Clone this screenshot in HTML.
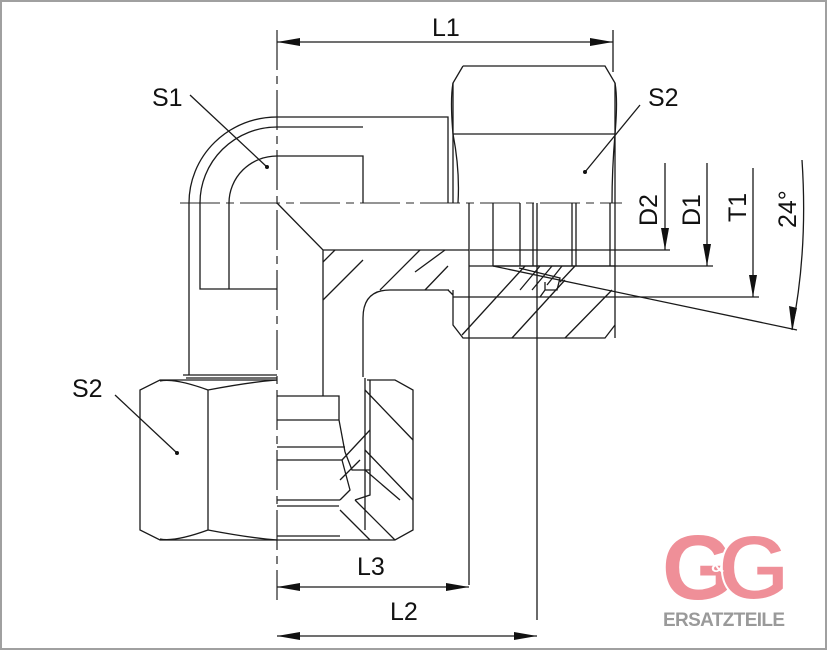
<!DOCTYPE html>
<html><head><meta charset="utf-8"><style>
html,body{margin:0;padding:0;background:#fff}
svg{display:block}
text{font-family:"Liberation Sans",sans-serif;fill:#111}
</style></head><body>
<svg width="828" height="651" viewBox="0 0 828 651" xmlns="http://www.w3.org/2000/svg">
<rect x="1" y="1" width="825" height="648" fill="#fff" stroke="#a0a0a0" stroke-width="2"/>
<g fill="none" stroke="#1a1a1a" stroke-width="1.3">
<!-- centerlines -->
<path d="M180 203 H622" stroke-dasharray="40 6 8 6" stroke="#555"/>
<path d="M277 30 V600" stroke-dasharray="40 6 8 6" stroke="#333"/>
<!-- elbow -->
<path d="M277 117 A88 86 0 0 0 189 203 V375"/>
<path d="M277 127 A77 76 0 0 0 200 203 V289 H277"/>
<path d="M229 289 V203 A48 47 0 0 1 277 156 H363 V203"/>
<path d="M277 127 H363"/>
<path d="M277 117 H448 V203"/>
<path d="M453 83 V203"/>
<!-- small rings above lower nut -->
<path d="M183 375 H277 M186 378 H277"/>
<!-- lower-left nut -->
<path d="M277 380 H160 L140 390 V530 L160 540 H277"/>
<path d="M208 390 V530 M160 381 Q175 378 208 390 M160 539 Q175 542 208 530 M208 390 Q250 382 277 380 M208 530 Q250 538 277 540"/>
<!-- bore -->
<path d="M277 203 L323 250 H469 M323 250 V396"/>
<path d="M277 396 H339 V420 L345 452 M277 420 H339 M277 447 H345 M277 460 H342 M277 500 H340 M277 506 H339 M277 536 H340"/>
<path d="M363 377 V318 Q363 290 390 290 H449"/>
<path d="M367 380 H395 L413 390 V530 L395 540 H277"/>
<path d="M365 378 V530 M370 380 V470 M345 452 L352 470 H370 V495 L355 500 M342 460 L350 490 L340 500"/>
<!-- hatch lower -->
<path d="M365 390 L413 440 M365 450 L413 500 M365 470 L400 500 M355 500 L395 540 M340 510 L370 540 M323 300 L363 260 M335 250 L323 262 M380 290 L420 250 M342 460 L370 430 M340 480 L360 460"/>
<!-- right nut -->
<path d="M463 66 H605 L615 83 Q618 100 615 134 M463 66 L453 83 Q450 100 453 134 M453 134 L463 134 H605 L615 134"/>
<path d="M453 134 Q460 170 458 203 M615 134 Q612 170 612 203 M615 83 V338"/>
<path d="M453 290 V325 L463 338 H605 L615 325 M448 290 L453 295"/>
<path d="M469 203 V585 M537 203 V620"/>
<path d="M493 203 V266 M520 203 V266 M533 203 V266 M576 203 V266 M572 203 V266 M610 203 V266"/>
<path d="M469 266 H615 M453 297 H759"/>
<path d="M519 268 L560 278 L557 290 H545 V282 M545 290 L540 297"/>
<!-- hatch right -->
<path d="M462 335 L525 266 M512 338 L565 280 M565 338 L612 290 M540 266 L520 290 M552 266 L532 290 M562 266 L547 285 M575 266 L560 282 M425 290 L448 266 M415 272 L445 250"/>
<!-- dimension lines -->
<path d="M613 30 V72 M277 42 H613"/>
<path d="M665 163 V250 M470 250 H670"/>
<path d="M707 163 V266 M493 266 H713"/>
<path d="M753 168 V297"/>
<path d="M493 266 L797 330"/>
<path d="M802 160 Q808 250 792 330"/>
<path d="M277 587 H469 M277 636 H537"/>
<!-- leaders -->
<path d="M190 95 L267 167 M640 105 L585 172 M115 395 L177 453"/>
</g>
<g fill="#111">
<polygon points="277,42 300,38 300,46"/><polygon points="613,42 590,38 590,46"/>
<polygon points="665,250 661,228 669,228"/><polygon points="707,266 703,244 711,244"/>
<polygon points="753,297 749,275 757,275"/><polygon points="792,330 789,306 797,308"/>
<polygon points="277,587 300,583 300,591"/><polygon points="469,587 446,583 446,591"/>
<polygon points="277,636 300,632 300,640"/><polygon points="537,636 514,632 514,640"/>
<circle cx="267" cy="167" r="2"/><circle cx="585" cy="172" r="2"/><circle cx="177" cy="453" r="2"/>
</g>
<g font-size="25">
<text x="432" y="36">L1</text>
<text x="152" y="106">S1</text>
<text x="648" y="106">S2</text>
<text x="72" y="397">S2</text>
<text x="357" y="575">L3</text>
<text x="390" y="620">L2</text>
<text transform="translate(657,226) rotate(-90)">D2</text>
<text transform="translate(700,226) rotate(-90)">D1</text>
<text transform="translate(746,222) rotate(-90)">T1</text>
<text transform="translate(796,228) rotate(-90)">24°</text>
</g>
<text x="662" y="599" font-size="92" font-weight="bold" style="fill:#ef8f98">G</text>
<text x="718" y="599" font-size="92" font-weight="bold" style="fill:#ef8f98;stroke:#fff;stroke-width:2">G</text>
<text x="711" y="572" font-size="18" font-weight="bold" style="fill:#fff">&amp;</text>
<text x="663" y="626" font-size="19" font-weight="bold" style="fill:#9a9a9a" textLength="122">ERSATZTEILE</text>
</svg>
</body></html>
